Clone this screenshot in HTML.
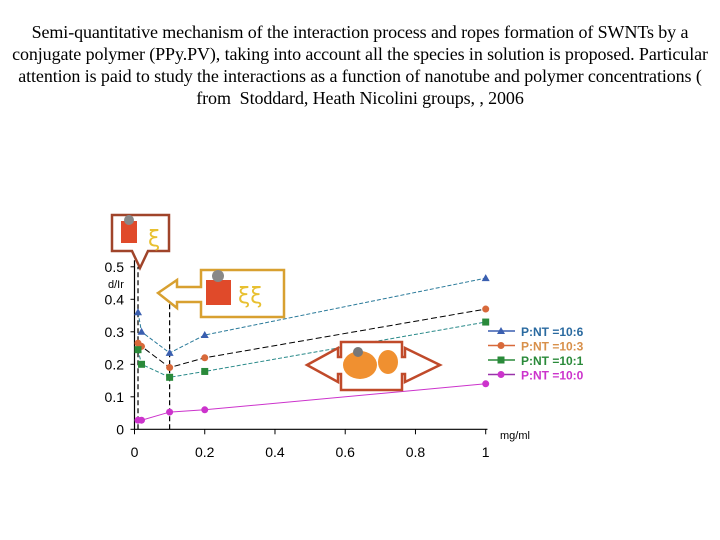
<!DOCTYPE html>
<html><head><meta charset="utf-8"><style>
body{margin:0;width:720px;height:540px;background:#fff;overflow:hidden;position:relative}
#title{position:absolute;top:21px;left:0;width:720px;text-align:center;font:18px/22px "Liberation Serif",serif;color:#000;white-space:nowrap;letter-spacing:-0.1px}
svg{position:absolute;left:0;top:0}
</style></head><body>
<div id="title">Semi-quantitative mechanism of the interaction process and ropes formation of SWNTs by a<br>conjugate polymer (PPy.PV), taking into account all the species in solution is proposed. Particular<br>attention is paid to study the interactions as a function of nanotube and polymer concentrations (<br>from&nbsp; Stoddard, Heath Nicolini groups, , 2006</div>
<svg id="chart" width="720" height="540"></svg>
<script>
const xVals=[0.01,0.02,0.1,0.2,1];
const s106=[0.36,0.30,0.235,0.29,0.465];
const s103=[0.265,0.255,0.19,0.22,0.37];
const s101=[0.245,0.20,0.16,0.178,0.33];
const s100=[0.028,0.028,0.053,0.06,0.14];
const xTicks=[0,0.2,0.4,0.6,0.8,1];
const yTicks=[0,0.1,0.2,0.3,0.4,0.5];
const seriesNames=["P:NT =10:6","P:NT =10:3","P:NT =10:1","P:NT =10:0"];
const NS="http://www.w3.org/2000/svg";
const svg=document.getElementById('chart');
const X=v=>134.5+v*351.2, Y=v=>429.3-v*325;
function el(t,a,p){const e=document.createElementNS(NS,t);for(const k in a)e.setAttribute(k,a[k]);(p||svg).appendChild(e);return e;}
let ax=el('line',{x1:X(0),y1:Y(0),x2:X(1.005),y2:Y(0),stroke:'#000','stroke-width':1.2});

let ay=el('line',{x1:X(0),y1:Y(0),x2:X(0),y2:Y(0.52),stroke:'#000','stroke-width':1.2});

xTicks.forEach(v=>{el('line',{x1:X(v),y1:Y(0),x2:X(v),y2:Y(0)+5,stroke:'#000'});
 const t=el('text',{x:X(v),y:457,'text-anchor':'middle','font-family':'Liberation Sans, sans-serif','font-size':14,fill:'#000'});t.textContent=v;
 });
yTicks.forEach(v=>{el('line',{x1:X(0)-4,y1:Y(v),x2:X(0),y2:Y(v),stroke:'#000'});
 const t=el('text',{x:124,y:Y(v)+5,'text-anchor':'end','font-family':'Liberation Sans, sans-serif','font-size':14,fill:'#000'});t.textContent=v;
 });
let yl=el('text',{x:108,y:288,'font-family':'Liberation Sans, sans-serif','font-size':11,fill:'#000'});yl.textContent='d/Ir';

let xl=el('text',{x:500,y:439,'font-family':'Liberation Sans, sans-serif','font-size':11,fill:'#000'});xl.textContent='mg/ml';

[0.01,0.1].forEach(v=>{const l=el('line',{x1:X(v),y1:Y(0),x2:X(v),y2:Y(v<0.05?0.5:0.42),stroke:'#000','stroke-dasharray':'5,3','stroke-width':1.2});
 });
const series=[[s106,'#3a5fb0','#2a7a9a','tri','4,2'],[s103,'#d8693a','#000','dia','6,3'],[s101,'#2a8a3a','#2a8a8a','sq','4,2'],[s100,'#cc33cc','#cc33cc','dia','']];
function marker(sh,cx,cy,c,g){
 if(sh==='tri')return el('polygon',{points:`${cx},${cy-4} ${cx-4},${cy+3} ${cx+4},${cy+3}`,fill:c},g);
 if(sh==='sq')return el('rect',{x:cx-3.5,y:cy-3.5,width:7,height:7,fill:c},g);
 return el('circle',{cx,cy,r:3.5,fill:c},g);}
series.forEach((s,i)=>{
 const g=el('g',{});
 const pts=xVals.map((x,j)=>X(x)+','+Y(s[0][j])).join(' ');
 el('polyline',{points:pts,fill:'none',stroke:s[2],'stroke-width':1,'stroke-dasharray':s[4]},g);
 xVals.forEach((x,j)=>{const m=marker(s[3],X(x),Y(s[0][j]),s[1],g);
  });
 const ly=331+i*14.5;
 const lg=el('g',{},svg);
 el('line',{x1:488,y1:ly,x2:515,y2:ly,stroke:i===3?'#9933aa':s[1],'stroke-width':1.5},lg);
 marker(s[3],501,ly,s[1],lg);
 const t=el('text',{x:521,y:ly+5,'font-family':'Liberation Sans, sans-serif','font-size':12,'font-weight':'bold',fill:['#2a6aa0','#d8904a','#2a8a3a','#cc33cc'][i]},lg);t.textContent=seriesNames[i];
});
function callout(name,d,fill){const g=el('g',{});
 el('path',{d,fill:'#fff',stroke:fill,'stroke-width':2.5},g);return g;}
let c1=callout('callout-single','M112,215 H169 V251 H148 L140,268 L132,251 H112 Z','#a0442a');
el('rect',{x:121,y:221,width:16,height:22,fill:'#e04a2a'},c1);el('circle',{cx:129,cy:220,r:5,fill:'#888'},c1);
el('text',{x:148,y:246,'font-size':22,fill:'#e8c030','font-family':'DejaVu Sans, sans-serif'},c1).textContent='ξ';
let c2=callout('callout-rope','M158,293 L177,280 V287 H201 V270 H284 V317 H201 V302 H177 V308 Z','#d8a030');
el('rect',{x:206,y:280,width:25,height:25,fill:'#e04a2a'},c2);el('circle',{cx:218,cy:276,r:6,fill:'#888'},c2);
el('text',{x:238,y:303,'font-size':22,fill:'#e8c030','font-family':'DejaVu Sans, sans-serif'},c2).textContent='ξξ';
let c3=callout('callout-wrap','M307,365 L338,348 V357 H341 V342 H402 V357 H405 V348 L440,365 L405,382 V374 H402 V390 H341 V374 H338 V382 Z','#c04a2a');
el('ellipse',{cx:360,cy:365,rx:17,ry:14,fill:'#f09030'},c3);el('ellipse',{cx:388,cy:362,rx:10,ry:12,fill:'#f09030'},c3);el('circle',{cx:358,cy:352,r:5,fill:'#777'},c3);
</script>
</body></html>
